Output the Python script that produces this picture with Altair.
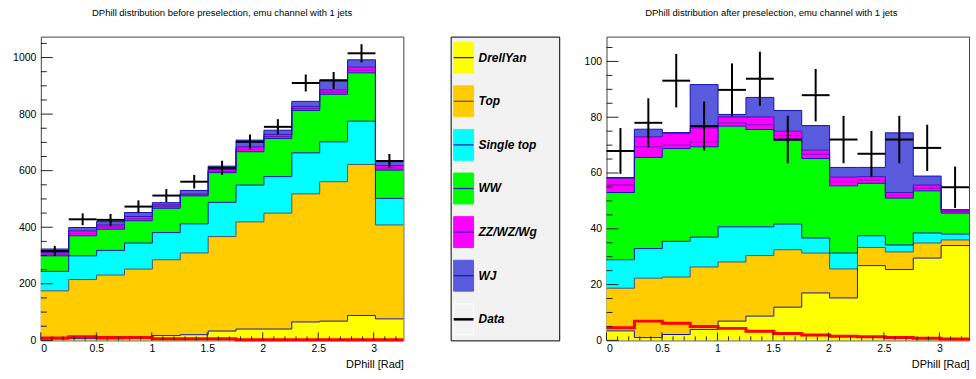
import altair as alt
import pandas as pd

# ---------------- data ----------------
edges = [0.0, 0.2513, 0.5027, 0.754, 1.0053, 1.2566, 1.508, 1.7593,
         2.0106, 2.2619, 2.5133, 2.7646, 3.0159, 3.2673]
# stack layers (ZZ/WZ/Wg is drawn as two magenta sub-histograms, as in the reference)
layers = ["DrellYan", "Top", "Single top", "WW", "ZZ", "WZ/Wg", "WJ"]
layer_fill = ["#ffff00", "#ffcc00", "#00ffff", "#00ff00", "#ff00ff", "#ff00ff", "#5a5adc"]
layer_line = ["#1414b4", "#505070", "#1414b4", "#1414b4", "#6a14b4", "#3a14b4", "#1414b4"]

# before preselection (events per bin, per component)
before_dy = [5, 6, 5, 6, 17, 20, 33, 40, 40, 65, 68, 88, 76]
before_top = [170, 209, 226, 246, 268, 289, 334, 379, 410, 453, 493, 534, 332]
before_st = [69, 84, 87, 92, 96, 103, 121, 130, 129, 145, 141, 153, 94]
before_ww = [55, 71, 75, 79, 86, 99, 105, 118, 135, 150, 168, 171, 100]
before_zz = [6, 8, 8, 7, 6, 4, 5, 8, 7, 7, 8, 10, 8]
before_wzwg = [6, 9, 7, 8, 6, 3, 6, 9, 7, 7, 8, 10, 8]
before_wj = [12, 12, 12, 14, 8, 12, 12, 24, 15, 18, 35, 26, 17]
before_data = [316, 428, 426, 473, 512, 561, 610, 702, 755, 910, 919, 1015, 634]
before_err = [18, 21, 21, 22, 23, 24, 25, 26, 27, 30, 30, 32, 25]
before_signal = [8, 13, 10, 10, 6, 6, 6, 2, 2, 2, 2, 2, 2]

# after preselection
after_dy = [3.4, 1.0, 2.1, 3.9, 6.9, 8.7, 11.9, 17.0, 15.2, 26.8, 25.4, 29.5, 34.0]
after_top = [15.3, 21.3, 20.6, 22.4, 21.2, 21.7, 20.6, 14.3, 10.4, 6.5, 6.3, 5.4, 2.0]
after_st = [10.2, 10.6, 12.8, 10.7, 12.6, 10.3, 9.2, 5.4, 5.7, 4.2, 2.5, 3.6, 2.1]
after_ww = [24.1, 32.7, 33.3, 32.4, 36.1, 34.9, 30.1, 28.5, 24.1, 18.8, 16.8, 15.1, 7.5]
after_zz = [2.7, 3.8, 1.2, 1.8, 1.2, 1.7, 1.6, 1.5, 1.5, 1.2, 1.0, 1.0, 0.6]
after_wzwg = [2.4, 3.6, 4.2, 5.0, 2.1, 2.8, 1.6, 1.5, 1.6, 1.2, 1.0, 1.1, 0.6]
after_wj = [0.3, 2.7, 0.3, 15.5, 0.9, 7.0, 7.4, 8.8, 3.5, 3.3, 21.4, 3.2, 0.0]
after_data = [67.9, 78.0, 93.1, 76.8, 89.8, 93.8, 72.0, 87.9, 72.0, 66.9, 72.0, 69.0, 54.9]
after_err = [8.2, 8.8, 9.6, 8.8, 9.5, 9.7, 8.5, 9.4, 8.5, 8.2, 8.5, 8.3, 7.4]
after_signal = [4.5, 6.9, 6.1, 5.0, 4.3, 3.3, 2.5, 1.9, 1.5, 1.3, 1.0, 0.8, 0.5]

x_major = [0, 0.5, 1, 1.5, 2, 2.5, 3]
x_minor = [0.1, 0.2, 0.3, 0.4, 0.6, 0.7, 0.8, 0.9, 1.1, 1.2, 1.3, 1.4, 1.6, 1.7,
           1.8, 1.9, 2.1, 2.2, 2.3, 2.4, 2.6, 2.7, 2.8, 2.9, 3.1, 3.2]
before_y_major = [0, 200, 400, 600, 800, 1000]
before_y_minor = [50, 100, 150, 250, 300, 350, 450, 500, 550, 650, 700, 750,
                  850, 900, 950, 1050]
after_y_major = [0, 20, 40, 60, 80, 100]
after_y_minor = [5, 10, 15, 25, 30, 35, 45, 50, 55, 65, 70, 75, 85, 90, 95, 105]

title_before = "DPhill distribution before preselection, emu channel with 1 jets"
title_after = "DPhill distribution after preselection, emu channel with 1 jets"
x_title = "DPhill [Rad]"

# legend entries
entries = ["DrellYan", "Top", "Single top", "WW", "ZZ/WZ/Wg", "WJ", "Data"]
legend_fill = ["#ffff00", "#ffcc00", "#00ffff", "#00ff00", "#ff00ff", "#5a5adc", "#f2f2f2"]
legend_edge = ["#ffff00", "#ffcc00", "#00ffff", "#00ff00", "#ff00ff", "#5a5adc", "#ffffff"]
legend_line = ["#1414b4", "#505070", "#1414b4", "#1414b4", "#3a14b4", "#1414b4", "#000000"]
legend_lw = [1.2, 1.2, 1.2, 1.2, 1.2, 1.2, 2.5]

W, H = 364, 305
FONT = "Liberation Sans"


def panel(comp_lists, data, err, signal, ymax, y_major, y_minor, title, dx, min_extent):
    nb = len(edges) - 1
    rows = []
    cum_prev = [0.0] * nb
    for name, fc, lc, vals in zip(layers, layer_fill, layer_line, comp_lists):
        cum = [a + b for a, b in zip(cum_prev, vals)]
        for j, e in enumerate(edges):
            k = min(j, nb - 1)
            rows.append({"x": e, "comp": name, "fc": fc, "lc": lc,
                         "lo": cum_prev[k], "hi": cum[k]})
        cum_prev = cum
    df = pd.DataFrame(rows)

    sig = pd.DataFrame({"x": edges, "v": [signal[min(j, nb - 1)] for j in range(len(edges))]})
    dd = pd.DataFrame({
        "x0": edges[:-1], "x1": edges[1:],
        "c": [(a + b) / 2 for a, b in zip(edges[:-1], edges[1:])],
        "v": data,
        "elo": [v - e for v, e in zip(data, err)],
        "ehi": [v + e for v, e in zip(data, err)],
    })

    xs = alt.Scale(domain=[0, edges[-1]], nice=False, zero=False)
    ys = alt.Scale(domain=[0, ymax], nice=False)
    xaxis = alt.Axis(values=x_major, format="~g", ticks=False, tickSize=0, domain=False,
                     grid=False, labelPadding=3, title=x_title, titleAnchor="end",
                     titleBaseline="alphabetic", titleY=27)
    yaxis = alt.Axis(values=y_major, format="d", ticks=False, tickSize=0, domain=False,
                     grid=False, labelPadding=5, title=None, minExtent=min_extent)

    def X(f):
        return alt.X(f, type="quantitative", scale=xs, axis=xaxis)

    def Y(f):
        return alt.Y(f, type="quantitative", scale=ys, axis=yaxis, stack=None)

    area = alt.Chart(df).mark_area(interpolate="step-after").encode(
        x=X("x"), y=Y("hi"), y2="lo",
        fill=alt.Fill("fc:N", scale=None),
        detail="comp:N",
    )
    outline = alt.Chart(df).mark_line(interpolate="step-after", strokeWidth=1).encode(
        x=X("x"), y=Y("hi"),
        stroke=alt.Stroke("lc:N", scale=None),
        detail="comp:N",
    )
    sigline = alt.Chart(sig).mark_line(interpolate="step-after", strokeWidth=3, color="#ff0000").encode(
        x=X("x"), y=Y("v"))
    ebar = alt.Chart(dd).mark_rule(strokeWidth=2, color="#000000").encode(
        x=X("c"), y=Y("elo"), y2="ehi")
    hbar = alt.Chart(dd).mark_rule(strokeWidth=2, color="#000000").encode(
        x=X("x0"), x2="x1", y=Y("v"))

    ytm = alt.Chart(pd.DataFrame({"v": y_major})).mark_rule(color="#222222", strokeWidth=1).encode(
        y=Y("v"), x=alt.value(0), x2=alt.value(12))
    ytn = alt.Chart(pd.DataFrame({"v": y_minor})).mark_rule(color="#222222", strokeWidth=1).encode(
        y=Y("v"), x=alt.value(0), x2=alt.value(6))
    xtm = alt.Chart(pd.DataFrame({"v": x_major})).mark_rule(color="#222222", strokeWidth=1).encode(
        x=X("v"), y=alt.value(H), y2=alt.value(H - 8))
    xtn = alt.Chart(pd.DataFrame({"v": x_minor})).mark_rule(color="#222222", strokeWidth=1).encode(
        x=X("v"), y=alt.value(H), y2=alt.value(H - 4))

    return alt.layer(area, outline, sigline, ytm, ytn, xtm, xtn, ebar, hbar).properties(
        width=W, height=H,
        title=alt.TitleParams(title, fontSize=9.5, font=FONT, fontWeight="normal",
                              color="#000000", anchor="middle", offset=19, dx=dx),
    )


left = panel([before_dy, before_top, before_st, before_ww, before_zz, before_wzwg, before_wj],
             before_data, before_err, before_signal, 1074,
             before_y_major, before_y_minor, title_before, 0, 35.5)
right = panel([after_dy, after_top, after_st, after_ww, after_zz, after_wzwg, after_wj],
              after_data, after_err, after_signal, 108.9,
              after_y_major, after_y_minor, title_after, -16.5, 0)

# ---------------- legend panel ----------------
ldf = pd.DataFrame({"entry": entries, "fc": legend_fill, "ec": legend_edge,
                    "lc": legend_line, "lw": legend_lw})
ly = alt.Y("entry:N", sort=entries,
           scale=alt.Scale(domain=entries, type="band", paddingInner=0.292, paddingOuter=0.128),
           axis=None)
swatch = alt.Chart(ldf).mark_rect(strokeWidth=1).encode(
    y=ly, x=alt.value(3), x2=alt.value(23),
    fill=alt.Fill("fc:N", scale=None),
    stroke=alt.Stroke("ec:N", scale=None),
)
swline = alt.Chart(ldf).mark_rule().encode(
    y=ly, x=alt.value(3), x2=alt.value(23),
    stroke=alt.Stroke("lc:N", scale=None),
    strokeWidth=alt.StrokeWidth("lw:Q", scale=None),
)
labels = alt.Chart(ldf).mark_text(align="left", baseline="middle", fontSize=12, font=FONT,
                                  fontStyle="italic", fontWeight="bold", color="#000000").encode(
    y=ly, x=alt.value(28), text="entry:N")
legend = alt.layer(swatch, swline, labels).properties(
    width=109, height=H,
    view=alt.ViewBackground(fill="#f2f2f2", stroke="#000000", strokeWidth=1),
)

chart = alt.hconcat(left, legend, right, spacing=47.5, bounds="flush").properties(
    padding={"left": 5, "top": 7, "right": 0, "bottom": 0},
    background="#ffffff",
).configure_view(stroke="#444444", strokeWidth=1).configure_axis(
    labelFont=FONT, labelFontSize=10.5, labelColor="#000000",
    titleFont=FONT, titleFontSize=11, titleFontWeight="normal", titleColor="#000000",
)

chart.save("out.html", embed_options={"renderer": "svg", "actions": False})
